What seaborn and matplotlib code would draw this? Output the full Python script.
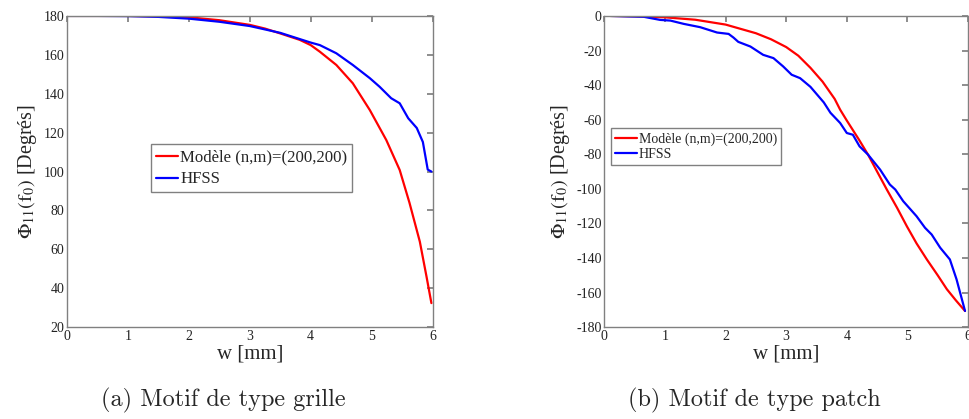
import matplotlib

matplotlib.use("Agg")
import matplotlib.pyplot as plt
import pandas as pd
import seaborn as sns

# (a) grille: phase of S11 at f0 vs w
GRID_MODEL_W = [0, 0.5, 1, 1.5, 2, 2.5, 3, 3.25, 3.5, 3.82, 4.0, 4.15, 4.42, 4.69, 4.97, 5.24, 5.46, 5.62, 5.79, 5.9, 5.98]
GRID_MODEL_PHI = [180, 180, 180, 179.8, 179.3, 177.8, 175.4, 173.5, 171, 167.7, 165, 161.6, 154.8, 145.4, 131.6, 116.2, 100.8, 84, 64, 46, 32.4]
GRID_HFSS_W = [0, 0.5, 1, 1.5, 2, 2.5, 3, 3.5, 4, 4.15, 4.42, 4.69, 4.97, 5.13, 5.32, 5.46, 5.6, 5.74, 5.84, 5.92, 5.98]
GRID_HFSS_PHI = [180, 180, 179.9, 179.5, 178.6, 177, 174.8, 171.3, 166.3, 165, 160.8, 154.8, 148, 143.6, 137.7, 135.1, 127.4, 122.4, 115.2, 101, 100]

# (b) patch
PATCH_MODEL_W = [0.1, 0.5, 1, 1.5, 2, 2.5, 2.75, 3, 3.2, 3.4, 3.6, 3.8, 3.89, 4, 4.2, 4.35, 4.5, 4.66, 4.83,
                 4.99, 5.15, 5.32, 5.5, 5.65, 5.8, 5.95]
PATCH_MODEL_PHI = [0, -0.2, -0.8, -2.2, -5, -10, -13.5, -18, -23, -30, -38, -48, -54.2, -60.5, -71.5, -80.2, -90,
                   -100.4, -111, -121.6, -131.5, -140.8, -150, -158, -164.5, -170.6]
PATCH_HFSS_W = [0.1, 0.4, 0.65, 0.92, 1.09, 1.31, 1.58, 1.86, 2.05, 2.13, 2.21, 2.41, 2.62, 2.79, 2.95, 3.09,
                3.23, 3.4, 3.62, 3.73, 3.89, 4.0, 4.1, 4.21, 4.35, 4.55, 4.71, 4.8, 4.93, 5.15, 5.29, 5.4,
                5.54, 5.7, 5.81, 5.95]
PATCH_HFSS_PHI = [0, -0.3, -0.5, -2.3, -2.7, -4.6, -6.5, -9.6, -10.4, -12.5, -15, -17.7, -22.5, -24.4, -29.2, -34,
                  -36, -41, -50, -56, -61.9, -67.7, -68.7, -75.4, -80.2, -88.9, -97.5, -100.4, -107.1, -115.8, -122.5, -126.4,
                  -134, -140.8, -152.3, -170.6]

SERIES = ["Modèle (n,m)=(200,200)", "HFSS"]
PALETTE = {SERIES[0]: "#ff0000", SERIES[1]: "#0000ff"}
GRAY = "#808080"


def make_df(w_model, phi_model, w_hfss, phi_hfss):
    df1 = pd.DataFrame({"w": w_model, "phi": phi_model, "src": SERIES[0]})
    df2 = pd.DataFrame({"w": w_hfss, "phi": phi_hfss, "src": SERIES[1]})
    return pd.concat([df1, df2], ignore_index=True)


def style_axes(ax, yticks):
    ax.set_xlim(0, 6)
    ax.set_xticks(range(7))
    ax.set_yticks(yticks)
    ax.set_ylim(yticks[0], yticks[-1])
    for s in ax.spines.values():
        s.set_color(GRAY)
        s.set_linewidth(1.0)
    ax.tick_params(direction="in", top=True, right=True, color=GRAY, length=4,
                   labelsize=10, labelcolor="#222222", pad=2)
    ax.set_xlabel("w [mm]", fontsize=15, labelpad=1)
    ax.set_ylabel(r"$\Phi_{11}(\mathrm{f}_0)$ [Degrés]", fontsize=14.5, labelpad=3)


def draw(ax, df, yticks, legend_kw):
    sns.lineplot(data=df, x="w", y="phi", hue="src", palette=PALETTE,
                 linewidth=1.6, ax=ax, estimator=None, sort=False)
    style_axes(ax, yticks)
    leg = ax.legend(**legend_kw, handletextpad=0.1, borderpad=0.3,
                    fancybox=False, framealpha=1, edgecolor=GRAY, borderaxespad=0)
    leg.get_frame().set_linewidth(1.0)


if __name__ == "__main__":
    sns.set_theme(style="white")
    plt.rcParams["font.family"] = ["Liberation Serif", "DejaVu Serif"]
    plt.rcParams["mathtext.fontset"] = "stix"
    plt.rcParams["axes.unicode_minus"] = False

    fig = plt.figure(figsize=(9.7, 4.19), dpi=100)
    ax1 = fig.add_axes([0.069, 0.219, 0.377, 0.743])
    ax2 = fig.add_axes([0.623, 0.219, 0.375, 0.743])

    draw(ax1, make_df(GRID_MODEL_W, GRID_MODEL_PHI, GRID_HFSS_W, GRID_HFSS_PHI),
         list(range(20, 181, 20)),
         dict(loc="upper left", bbox_to_anchor=(0.229, 0.587), fontsize=12.1,
              handlelength=1.35, labelspacing=0.35))
    draw(ax2, make_df(PATCH_MODEL_W, PATCH_MODEL_PHI, PATCH_HFSS_W, PATCH_HFSS_PHI),
         list(range(-180, 1, 20)),
         dict(loc="upper left", bbox_to_anchor=(0.018, 0.64), fontsize=10,
              handlelength=1.6, labelspacing=0.15))

    fig.text(0.230, 0.03, "(a) Motif de type grille", ha="center", fontsize=17.5,
             family=["cmr10", "DejaVu Serif"])
    fig.text(0.778, 0.03, "(b) Motif de type patch", ha="center", fontsize=17.5,
             family=["cmr10", "DejaVu Serif"])

    fig.savefig("out.png", dpi=100)
